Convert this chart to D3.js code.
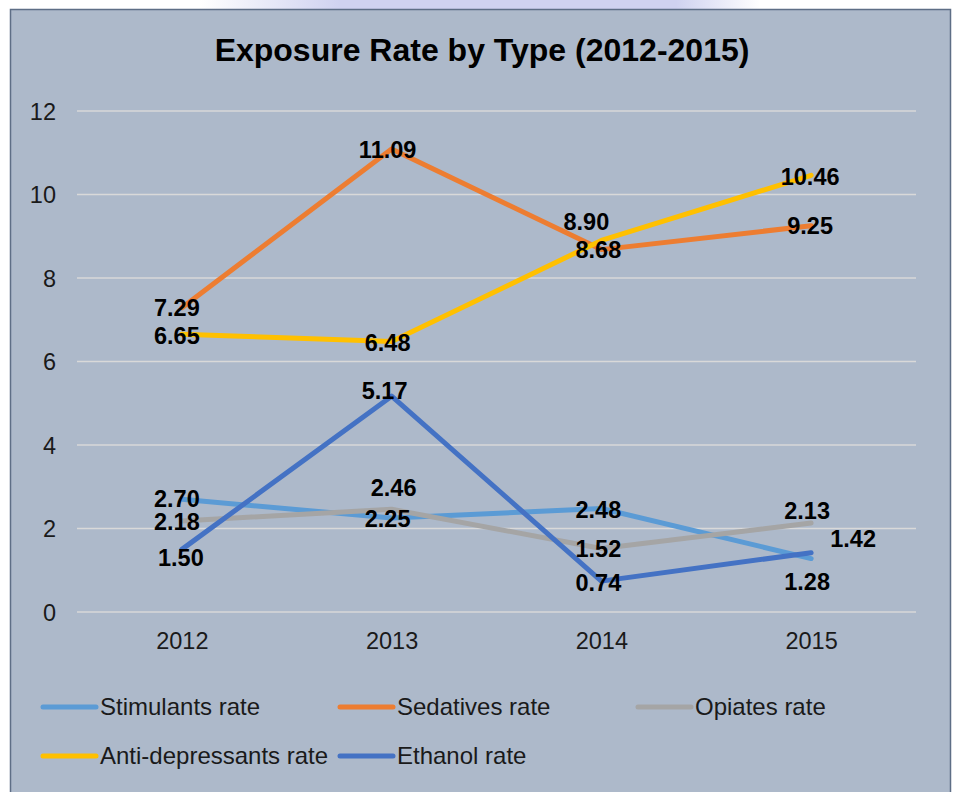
<!DOCTYPE html>
<html>
<head>
<meta charset="utf-8">
<script src="https://cdn.jsdelivr.net/npm/d3@7"></script>
<style>
  html, body { margin: 0; padding: 0; background: #ffffff; }
  svg { display: block; font-family: "Liberation Sans", Arial, sans-serif; }
</style>
</head>
<body>
<svg id="chart" width="955" height="792"></svg>
<script>
// ---- data ----
const years = ["2012", "2013", "2014", "2015"];
const seriesNames = ["Stimulants rate", "Sedatives rate", "Opiates rate", "Anti-depressants rate", "Ethanol rate"];
const stimulants = [2.70, 2.25, 2.48, 1.28];
const sedatives = [7.29, 11.09, 8.68, 9.25];
const opiates = [2.18, 2.46, 1.52, 2.13];
const antidepressants = [6.65, 6.48, 8.90, 10.46];
const ethanol = [1.50, 5.17, 0.74, 1.42];
const yTicks = [0, 2, 4, 6, 8, 10, 12];
const title = "Exposure Rate by Type (2012-2015)";

// ---- styling / layout ----
const colors = ["#5B9BD5", "#ED7D31", "#A5A5A5", "#FFC000", "#4472C4"];
// label nudges (pixels) relative to each point
const labelNudge = [
  [[-5, -1], [-4, 0], [-3, 1], [-4, 23]],
  [[-5, 0], [-4, 1], [-3, 0], [-1, 0]],
  [[-5, 1], [2, -22], [-3, 0], [-4, -13]],
  [[-5, 1], [-4, 1], [-15, -19], [-1, 1]],
  [[-1, 8], [-7, -6], [-3, 1], [42, -14]]
];
const values = [stimulants, sedatives, opiates, antidepressants, ethanol];

const svg = d3.select("#chart");

// top page decoration
const defs = svg.append("defs");
const grad = defs.append("linearGradient").attr("id", "topfade").attr("x1", 0).attr("x2", 1);
grad.append("stop").attr("offset", "0").attr("stop-color", "#cfd2f0").attr("stop-opacity", 0);
grad.append("stop").attr("offset", "0.25").attr("stop-color", "#cfd2f0").attr("stop-opacity", 1);
grad.append("stop").attr("offset", "0.85").attr("stop-color", "#cfd2f0").attr("stop-opacity", 1);
grad.append("stop").attr("offset", "1").attr("stop-color", "#cfd2f0").attr("stop-opacity", 0);
svg.append("rect").attr("x", 200).attr("y", 0).attr("width", 560).attr("height", 12).attr("fill", "url(#topfade)");

// chart frame
svg.append("rect")
  .attr("x", 10.5).attr("y", 9.5).attr("width", 940).attr("height", 800)
  .attr("fill", "#ADB9CA").attr("stroke", "#5E6E86").attr("stroke-width", 1.5);

const plot = { left: 77, right: 916, top: 111, bottom: 612 };

const x = d3.scalePoint().domain(years).range([plot.left, plot.right]).padding(0.5);
const y = d3.scaleLinear().domain([0, 12]).range([plot.bottom, plot.top]);

// gridlines
svg.append("g").selectAll("line").data(yTicks).join("line")
  .attr("x1", plot.left).attr("x2", plot.right)
  .attr("y1", d => y(d)).attr("y2", d => y(d))
  .attr("stroke", "#D9D9D9").attr("stroke-width", 1.5);

// y axis
const yAxis = d3.axisLeft(y).tickValues(yTicks).tickSize(0).tickPadding(0).tickFormat(d3.format("d"));
const gy = svg.append("g").attr("transform", `translate(56,0)`).call(yAxis);
gy.select(".domain").remove();
gy.selectAll("text").attr("font-size", 23.5).attr("fill", "#1a1a1a")
  .attr("font-family", "'Liberation Sans', Arial, sans-serif").attr("dy", "0.35em");

// x axis
const xAxis = d3.axisBottom(x).tickSize(0).tickPadding(0);
const gx = svg.append("g").attr("transform", `translate(0,${plot.bottom + 29})`).call(xAxis);
gx.select(".domain").remove();
gx.selectAll("text").attr("font-size", 23.5).attr("fill", "#1a1a1a")
  .attr("font-family", "'Liberation Sans', Arial, sans-serif").attr("dy", "0.35em");

// title
svg.append("text").attr("x", 482).attr("y", 50).attr("dy", "0.35em")
  .attr("text-anchor", "middle").attr("font-size", 32).attr("font-weight", "bold")
  .attr("fill", "#000").text(title);

// lines
const line = d3.line().x((d, i) => x(years[i])).y(d => y(d));
values.forEach((vals, s) => {
  svg.append("path").datum(vals).attr("d", line)
    .attr("fill", "none").attr("stroke", colors[s]).attr("stroke-width", 5)
    .attr("stroke-linecap", "round").attr("stroke-linejoin", "round");
});

// data labels
values.forEach((vals, s) => {
  svg.append("g").selectAll("text").data(vals).join("text")
    .attr("x", (d, i) => x(years[i]) + labelNudge[s][i][0])
    .attr("y", (d, i) => y(d) + labelNudge[s][i][1])
    .attr("dy", "0.36em").attr("text-anchor", "middle")
    .attr("font-size", 23.5).attr("font-weight", "bold").attr("fill", "#000")
    .text(d => d3.format(".2f")(d));
});

// legend
const legendPos = [[41, 707], [338, 707], [636, 707], [41, 756], [338, 756]];
const lg = svg.append("g").selectAll("g").data(seriesNames).join("g")
  .attr("transform", (d, i) => `translate(${legendPos[i][0]},${legendPos[i][1]})`);
lg.append("line").attr("x1", 2).attr("x2", 55).attr("y1", 0).attr("y2", 0)
  .attr("stroke", (d, i) => colors[i]).attr("stroke-width", 5).attr("stroke-linecap", "round");
lg.append("text").attr("x", 59).attr("y", 0).attr("dy", "0.35em")
  .attr("font-size", 24).attr("fill", "#1a1a1a").text(d => d);
</script>
</body>
</html>
